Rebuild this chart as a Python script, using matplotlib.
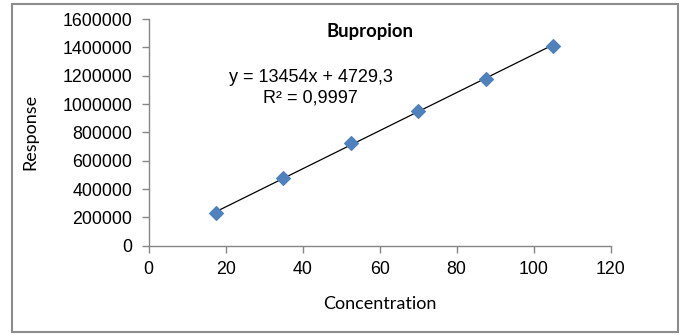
import matplotlib.pyplot as plt
import matplotlib.patches as patches
import numpy as np

# calibration data
concentration = [17.5, 35, 52.5, 70, 87.5, 105]
response = [230000, 480000, 722000, 948000, 1180000, 1412000]

# trendline as printed on the chart
slope = 13454
intercept = 4729.3
equation_text = "y = 13454x + 4729,3"
r2_text = "R² = 0,9997"

x_ticks = [0, 20, 40, 60, 80, 100, 120]
y_ticks = [0, 200000, 400000, 600000, 800000, 1000000, 1200000, 1400000, 1600000]

axis_grey = '#868686'
marker_blue = '#4F81BD'

fig = plt.figure(figsize=(6.83, 3.35), dpi=100)
ax = fig.add_axes([0.2177, 0.2666, 0.894 - 0.2177, 0.943 - 0.2666])

# data points
ax.scatter(concentration, response, marker='D', s=48, color=marker_blue,
           edgecolor=marker_blue, zorder=3)

# linear trendline over the data range
xs = np.array([concentration[0], concentration[-1]])
ax.plot(xs, slope * xs + intercept, color='black', linewidth=0.9, zorder=2)

ax.set_xlim(0, 120)
ax.set_ylim(0, 1600000)
ax.set_xticks(x_ticks)
ax.set_yticks(y_ticks)
ax.set_xticklabels([str(t) for t in x_ticks])
ax.set_yticklabels([str(t) for t in y_ticks])

for side in ['top', 'right']:
    ax.spines[side].set_visible(False)
for side in ['left', 'bottom']:
    ax.spines[side].set_color(axis_grey)
    ax.spines[side].set_linewidth(1.0)

ax.tick_params(axis='both', colors=axis_grey, length=5, width=1.0,
               labelcolor='black', labelsize=12.8)
for lbl in ax.get_xticklabels() + ax.get_yticklabels():
    lbl.set_family('Liberation Sans')
ax.tick_params(axis='x', pad=6)
ax.tick_params(axis='y', pad=7)

ax.set_xlabel('Concentration', fontsize=13, family='Lato', labelpad=13)
ax.set_ylabel('Response', fontsize=13, family='Lato', labelpad=17)

# title and equation placed inside the plot area
fig.text(0.5417, 0.9045, 'Bupropion', ha='center', va='center',
         fontsize=13.3, fontweight='bold', family='Lato')
fig.text(0.4546, 0.770, equation_text, ha='center', va='center',
         fontsize=13, family='Liberation Sans')
fig.text(0.4546, 0.7075, r2_text, ha='center', va='center',
         fontsize=13, family='Liberation Sans')

# outer chart border
border = patches.Rectangle((12 / 683, 3 / 335), 666 / 683, 328 / 335,
                           transform=fig.transFigure, fill=False,
                           edgecolor='#8c8c8c', linewidth=1.5)
fig.patches.append(border)

fig.savefig('out.png', dpi=100)
